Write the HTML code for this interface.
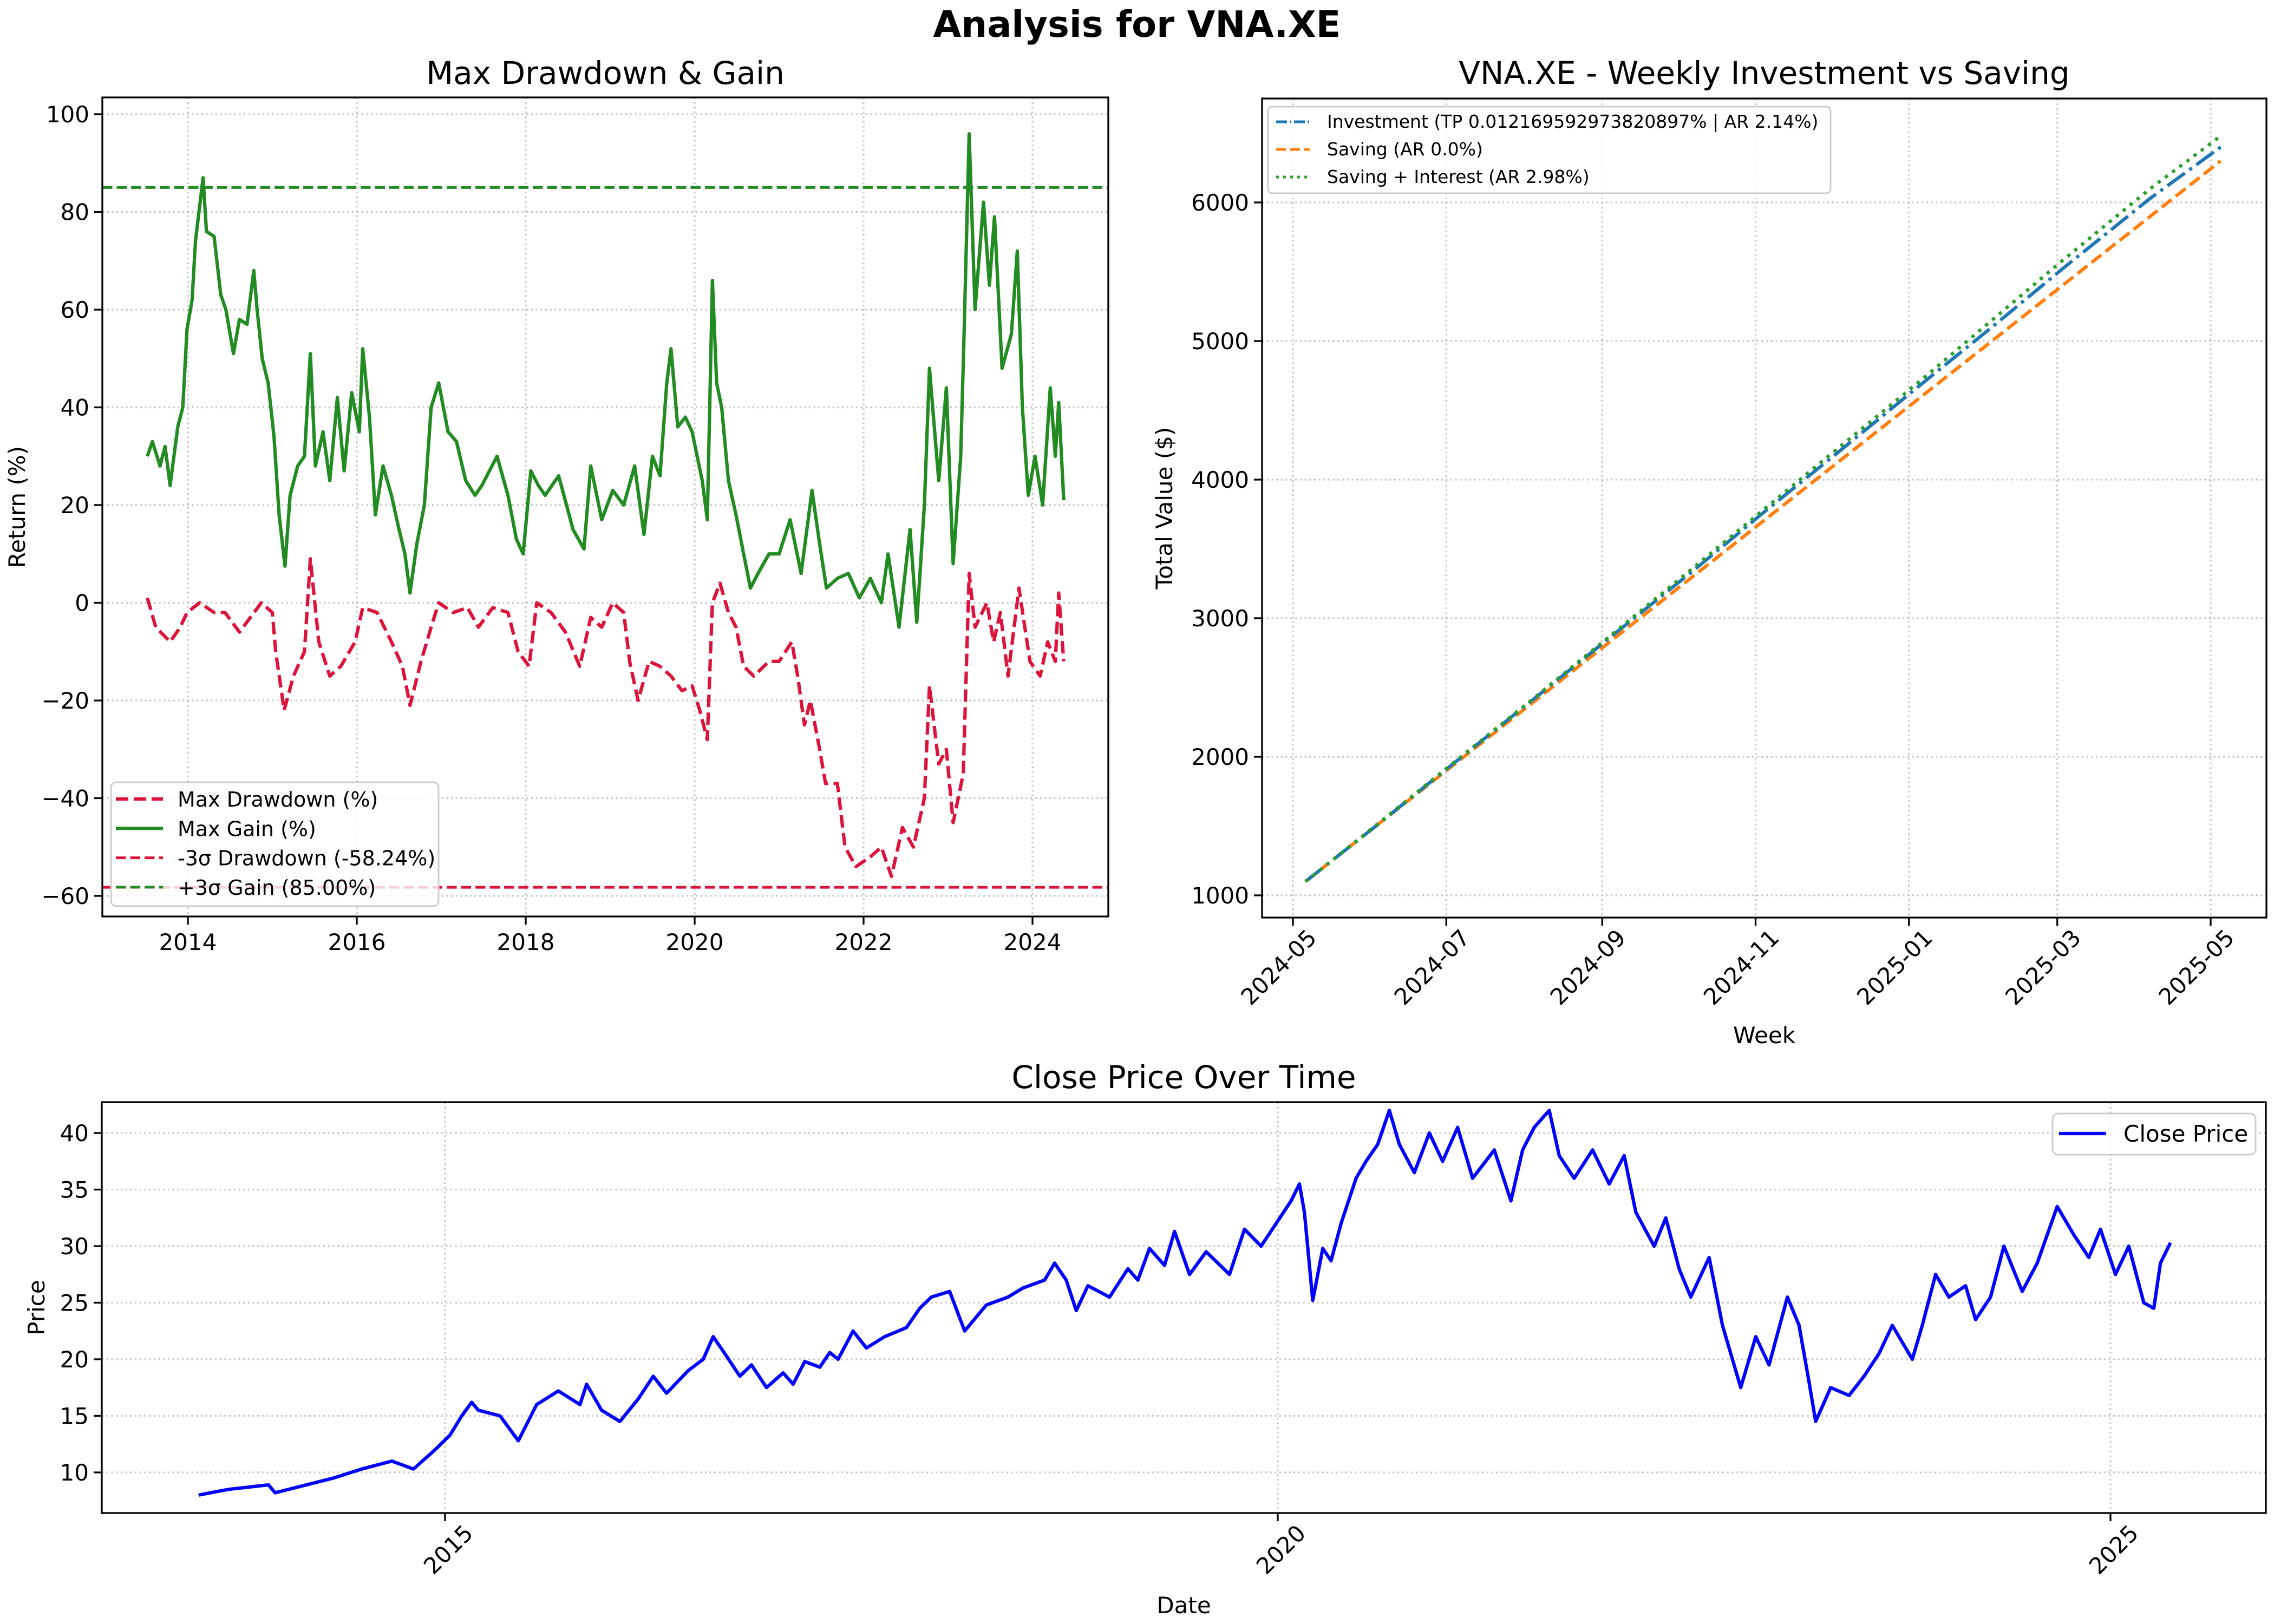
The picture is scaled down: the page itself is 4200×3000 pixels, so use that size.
<!DOCTYPE html>
<html><head><meta charset="utf-8"><style>
html,body{margin:0;padding:0;background:#fff}
svg{display:block;font-family:"DejaVu Sans","Liberation Sans",sans-serif}
</style></head><body>
<svg id="fig" width="4200" height="3000" viewBox="0 0 4200 3000" xmlns="http://www.w3.org/2000/svg">
<rect width="4200" height="3000" fill="#fff"/>
<text x="2100" y="68" text-anchor="middle" font-size="67" font-weight="bold">Analysis for VNA.XE</text>
<g id="p1"></g>
<g id="p2"></g>
<g id="p3"></g>
</svg>
<script>
// ---------- Data: Max drawdown & gain ----------
const gainYears=[2013.52,2013.58,2013.67,2013.73,2013.79,2013.88,2013.94,2013.99,2014.05,2014.09,2014.18,2014.22,2014.31,2014.39,2014.45,2014.54,2014.61,2014.70,2014.78,2014.82,2014.88,2014.95,2015.02,2015.08,2015.15,2015.21,2015.30,2015.38,2015.45,2015.51,2015.60,2015.68,2015.77,2015.85,2015.94,2016.03,2016.07,2016.15,2016.22,2016.31,2016.41,2016.50,2016.57,2016.63,2016.71,2016.80,2016.88,2016.97,2017.08,2017.18,2017.29,2017.40,2017.48,2017.66,2017.79,2017.89,2017.97,2018.06,2018.15,2018.23,2018.39,2018.56,2018.69,2018.77,2018.90,2019.03,2019.16,2019.29,2019.40,2019.50,2019.59,2019.67,2019.72,2019.80,2019.89,2019.97,2020.09,2020.15,2020.21,2020.26,2020.32,2020.40,2020.49,2020.58,2020.66,2020.75,2020.88,2021.00,2021.13,2021.26,2021.39,2021.48,2021.56,2021.69,2021.82,2021.95,2022.08,2022.21,2022.29,2022.42,2022.55,2022.63,2022.72,2022.78,2022.89,2022.98,2023.06,2023.15,2023.19,2023.25,2023.32,2023.42,2023.49,2023.55,2023.64,2023.75,2023.82,2023.88,2023.95,2024.03,2024.12,2024.21,2024.27,2024.31,2024.37];
const gainValues=[30,33,28,32,24,36,40,56,62,74,87,76,75,63,60,51,58,57,68,60,50,45,34,18,7.5,22,28,30,51,28,35,25,42,27,43,35,52,38,18,28,22,15,10,2,12,20,40,45,35,33,25,22,24,30,22,13,10,27,24,22,26,15,11,28,17,23,20,28,14,30,26,45,52,36,38,35,25,17,66,45,40,25,18,10,3,6,10,10,17,6,23,12,3,5,6,1,5,0,10,-5,15,-4,20,48,25,44,8,30,55,96,60,82,65,79,48,55,72,40,22,30,20,44,30,41,21];
const ddYears=[2013.52,2013.62,2013.79,2013.91,2013.99,2014.14,2014.31,2014.44,2014.61,2014.74,2014.87,2015.00,2015.04,2015.14,2015.25,2015.38,2015.45,2015.55,2015.68,2015.81,2015.98,2016.07,2016.24,2016.41,2016.54,2016.63,2016.76,2016.88,2016.97,2017.14,2017.31,2017.44,2017.61,2017.79,2017.91,2018.04,2018.13,2018.30,2018.47,2018.64,2018.77,2018.90,2019.03,2019.16,2019.23,2019.33,2019.46,2019.59,2019.72,2019.85,2019.97,2020.06,2020.15,2020.21,2020.30,2020.40,2020.49,2020.58,2020.70,2020.88,2021.00,2021.15,2021.22,2021.30,2021.37,2021.48,2021.55,2021.69,2021.78,2021.91,2022.08,2022.21,2022.33,2022.46,2022.59,2022.72,2022.78,2022.89,2022.98,2023.06,2023.18,2023.25,2023.32,2023.46,2023.54,2023.62,2023.71,2023.84,2023.97,2024.09,2024.18,2024.27,2024.31,2024.37];
const ddValues=[1,-5,-8,-5,-2,0,-2,-2,-6,-3,0,-2,-10,-22,-15,-10,9,-8,-15,-13,-8,-1,-2,-8,-13,-21,-12,-5,0,-2,-1,-5,-1,-2,-10,-13,0,-2,-6,-13,-3,-5,0,-2,-12,-20,-12,-13,-15,-18,-17,-22,-28,0,4,-2,-5,-13,-15,-12,-12,-8,-15,-25,-20,-30,-37,-37,-50,-54,-52,-50,-56,-46,-50,-40,-17,-33,-30,-45,-35,6,-5,0,-8,-2,-15,3,-12,-15,-8,-12,2,-12];
const ddYTicks=[-60,-40,-20,0,20,40,60,80,100];
const ddXTicks=[2014,2016,2018,2020,2022,2024];
const gainSigma=85.00, ddSigma=-58.24;

// ---------- Data: Weekly investment (days since 2024-05-01) ----------
const invDays=[5,33,61,96,124,159,187,215,250,278,306,341,369];
const savingValues=[1100,1500,1900,2400,2800,3300,3700,4100,4600,5000,5400,5900,6300];
const investValues=[1100,1500,1910,2420,2830,3340,3760,4170,4690,5100,5520,6030,6400];
const interestValues=[1100,1505,1915,2425,2840,3360,3780,4200,4720,5150,5580,6100,6480];
const invXTickDays=[0,61,123,184,245,304,365];
const invXTickLabels=["2024-05","2024-07","2024-09","2024-11","2025-01","2025-03","2025-05"];
const invYTicks=[1000,2000,3000,4000,5000,6000];

// ---------- Data: Close price ----------
const priceYears=[2013.52,2013.7,2013.94,2013.98,2014.33,2014.5,2014.68,2014.81,2014.94,2015.03,2015.10,2015.16,2015.20,2015.33,2015.44,2015.55,2015.68,2015.81,2015.85,2015.94,2016.05,2016.16,2016.25,2016.33,2016.46,2016.55,2016.61,2016.68,2016.77,2016.84,2016.93,2017.03,2017.09,2017.16,2017.25,2017.31,2017.36,2017.45,2017.53,2017.64,2017.77,2017.85,2017.92,2018.03,2018.12,2018.25,2018.38,2018.47,2018.60,2018.66,2018.73,2018.79,2018.86,2018.99,2019.10,2019.16,2019.23,2019.32,2019.38,2019.47,2019.57,2019.71,2019.80,2019.90,2019.99,2020.08,2020.13,2020.16,2020.21,2020.27,2020.32,2020.38,2020.47,2020.53,2020.60,2020.67,2020.73,2020.82,2020.91,2020.99,2021.08,2021.17,2021.30,2021.40,2021.47,2021.54,2021.63,2021.69,2021.78,2021.89,2021.99,2022.08,2022.15,2022.26,2022.33,2022.41,2022.48,2022.59,2022.67,2022.78,2022.87,2022.95,2023.06,2023.13,2023.19,2023.23,2023.32,2023.43,2023.52,2023.61,2023.69,2023.81,2023.87,2023.95,2024.03,2024.13,2024.19,2024.28,2024.36,2024.47,2024.56,2024.68,2024.78,2024.87,2024.94,2025.03,2025.11,2025.20,2025.26,2025.30,2025.36];
const priceValues=[8.0,8.5,8.9,8.2,9.5,10.3,11,10.3,12,13.3,15,16.2,15.5,15,12.8,16,17.2,16,17.8,15.5,14.5,16.5,18.5,17,19,20,22,20.5,18.5,19.5,17.5,18.8,17.8,19.8,19.3,20.6,20,22.5,21,22,22.8,24.5,25.5,26,22.5,24.8,25.5,26.3,27,28.5,27,24.3,26.5,25.5,28,27,29.8,28.3,31.3,27.5,29.5,27.5,31.5,30,32,34,35.5,33,25.2,29.8,28.7,32,36,37.5,39,42,39,36.5,40,37.5,40.5,36,38.5,34,38.5,40.5,42,38,36,38.5,35.5,38,33,30,32.5,28,25.5,29,23,17.5,22,19.5,25.5,23,18,14.5,17.5,16.8,18.5,20.5,23,20,23,27.5,25.5,26.5,23.5,25.5,30,26,28.5,33.5,31,29,31.5,27.5,30,25,24.5,28.5,30.3];
const priceYTicks=[10,15,20,25,30,35,40];
const priceXTicks=[2015,2020,2025];

const NS="http://www.w3.org/2000/svg";
function mk(parent,tag,attrs,text){const e=document.createElementNS(NS,tag);for(const k in attrs)e.setAttribute(k,attrs[k]);if(text!==undefined)e.textContent=text;parent.appendChild(e);return e;}
function lin(d0,d1,r0,r1){return v=>r0+(v-d0)*(r1-r0)/(d1-d0);}
const GRID={stroke:"#b0b0b0","stroke-width":3.3,"stroke-dasharray":"3.3 5.4","stroke-opacity":0.7};

function frame(g,L,T,R,B){const e=mk(g,"rect",{x:L,y:T,width:R-L,height:B-T,fill:"none",stroke:"#000","stroke-width":3.3});}
function pathD(xs,ys,sx,sy){return xs.map((x,i)=>(i?"L":"M")+sx(x).toFixed(1)+" "+sy(ys[i]).toFixed(1)).join("");}

// ===== Panel 1 =====
(function(){
const g=document.getElementById("p1");
const L=189,R=2047,T=180,B=1693;
const sx=lin(2014,2024,347,1907), sy=lin(100,-60,211,1655);
ddYTicks.forEach(v=>{const y=sy(v);
 const gl=mk(g,"line",Object.assign({x1:L,x2:R,y1:y,y2:y},GRID));
 mk(g,"line",{x1:L-15,x2:L,y1:y,y2:y,stroke:"#000","stroke-width":3.3});
 const t=mk(g,"text",{x:L-24,y:y+15,"text-anchor":"end","font-size":42},(v<0?"\u2212"+(-v):v));});
ddXTicks.forEach(v=>{const x=sx(v);
 const gl=mk(g,"line",Object.assign({x1:x,x2:x,y1:T,y2:B},GRID));
 mk(g,"line",{x1:x,x2:x,y1:B,y2:B+15,stroke:"#000","stroke-width":3.3});
 const t=mk(g,"text",{x:x,y:B+62,"text-anchor":"middle","font-size":42},v);});
const dd=mk(g,"path",{d:pathD(ddYears,ddValues,sx,sy),fill:"none",stroke:"#dc143c","stroke-width":6.25,"stroke-dasharray":"23 10","stroke-linejoin":"round"});

const gn=mk(g,"path",{d:pathD(gainYears,gainValues,sx,sy),fill:"none",stroke:"#228b22","stroke-width":6.25,"stroke-linejoin":"round"});

const h1=mk(g,"line",{x1:L,x2:R,y1:sy(gainSigma),y2:sy(gainSigma),stroke:"#228b22","stroke-width":5,"stroke-dasharray":"18.5 8"});

const h2=mk(g,"line",{x1:L,x2:R,y1:sy(ddSigma),y2:sy(ddSigma),stroke:"#dc143c","stroke-width":5,"stroke-dasharray":"18.5 8"});

frame(g,L,T,R,B);
const t=mk(g,"text",{x:(L+R)/2,y:155,"text-anchor":"middle","font-size":58},"Max Drawdown & Gain");
const yl=mk(g,"text",{x:0,y:0,transform:"translate(46 "+((T+B)/2)+") rotate(-90)","text-anchor":"middle","font-size":42},"Return (%)");
const lg=mk(g,"g",{});
mk(lg,"rect",{x:205,y:1445,width:605,height:229,rx:10,fill:"#fff","fill-opacity":0.8,stroke:"#ccc","stroke-width":3});
const items=[["Max Drawdown (%)","#dc143c","23 10",6.25],["Max Gain (%)","#228b22","",6.25],["-3\u03c3 Drawdown (-58.24%)","#dc143c","18.5 8",5],["+3\u03c3 Gain (85.00%)","#228b22","18.5 8",5]];
items.forEach((it,i)=>{const y=1476+i*54.3;const e=mk(lg,"g",{});
 mk(e,"line",{x1:214,x2:301,y1:y,y2:y,stroke:it[1],"stroke-width":it[3],"stroke-dasharray":it[2]});
 mk(e,"text",{x:328,y:y+14,"font-size":38},it[0]);});
})();

// ===== Panel 2 =====
(function(){
const g=document.getElementById("p2");
const L=2331,R=4186,T=182,B=1695;
const sx=lin(0,365,2388,4083), sy=lin(1000,6000,1654,374);
invYTicks.forEach(v=>{const y=sy(v);
 const gl=mk(g,"line",Object.assign({x1:L,x2:R,y1:y,y2:y},GRID));
 mk(g,"line",{x1:L-15,x2:L,y1:y,y2:y,stroke:"#000","stroke-width":3.3});
 const t=mk(g,"text",{x:L-24,y:y+15,"text-anchor":"end","font-size":42},v);});
invXTickDays.forEach((d,i)=>{const x=sx(d);
 const gl=mk(g,"line",Object.assign({x1:x,x2:x,y1:T,y2:B},GRID));
 mk(g,"line",{x1:x,x2:x,y1:B,y2:B+15,stroke:"#000","stroke-width":3.3});
 const t=mk(g,"text",{x:0,y:0,transform:"translate("+(x+46)+" "+(B+40)+") rotate(-45)","text-anchor":"end","font-size":42},invXTickLabels[i]);});
const sv=mk(g,"path",{d:pathD(invDays,savingValues,sx,sy),fill:"none",stroke:"#ff7f0e","stroke-width":6.25,"stroke-dasharray":"23 10"});

const iv=mk(g,"path",{d:pathD(invDays,investValues,sx,sy),fill:"none",stroke:"#1f77b4","stroke-width":6.25,"stroke-dasharray":"40 10 6 10"});

const it=mk(g,"path",{d:pathD(invDays,interestValues,sx,sy),fill:"none",stroke:"#2ca02c","stroke-width":6.25,"stroke-dasharray":"6.25 10.3"});

frame(g,L,T,R,B);
const t=mk(g,"text",{x:(L+R)/2,y:155,"text-anchor":"middle","font-size":58},"VNA.XE - Weekly Investment vs Saving");
const yl=mk(g,"text",{x:0,y:0,transform:"translate(2165 "+((T+B)/2)+") rotate(-90)","text-anchor":"middle","font-size":42},"Total Value ($)");
const xl=mk(g,"text",{x:(L+R)/2,y:1927,"text-anchor":"middle","font-size":42},"Week");
const lg=mk(g,"g",{});
mk(lg,"rect",{x:2342,y:197,width:1039,height:160,rx:8,fill:"#fff","fill-opacity":0.8,stroke:"#ccc","stroke-width":3});
const items=[["Investment (TP 0.012169592973820897% | AR 2.14%)","#1f77b4","20 5 3 5"],["Saving (AR 0.0%)","#ff7f0e","18 8"],["Saving + Interest (AR 2.98%)","#2ca02c","5 8"]];
items.forEach((d,i)=>{const y=225+i*51;const e=mk(lg,"g",{});
 mk(e,"line",{x1:2357,x2:2419,y1:y,y2:y,stroke:d[1],"stroke-width":5,"stroke-dasharray":d[2]});
 mk(e,"text",{x:2451,y:y+11,"font-size":33},d[0]);});
})();

// ===== Panel 3 =====
(function(){
const g=document.getElementById("p3");
const L=188,R=4185,T=2036,B=2795;
const sx=lin(2015,2025,822,3898), sy=lin(10,40,2720,2093);
priceYTicks.forEach(v=>{const y=sy(v);
 const gl=mk(g,"line",Object.assign({x1:L,x2:R,y1:y,y2:y},GRID));
 mk(g,"line",{x1:L-15,x2:L,y1:y,y2:y,stroke:"#000","stroke-width":3.3});
 const t=mk(g,"text",{x:L-24,y:y+15,"text-anchor":"end","font-size":42},v);});
priceXTicks.forEach(v=>{const x=sx(v);
 const gl=mk(g,"line",Object.assign({x1:x,x2:x,y1:T,y2:B},GRID));
 mk(g,"line",{x1:x,x2:x,y1:B,y2:B+15,stroke:"#000","stroke-width":3.3});
 const t=mk(g,"text",{x:0,y:0,transform:"translate("+(x+54)+" "+(B+40)+") rotate(-45)","text-anchor":"end","font-size":42},v);});
const pl=mk(g,"path",{d:pathD(priceYears,priceValues,sx,sy),fill:"none",stroke:"#0000ff","stroke-width":6.25,"stroke-linejoin":"round"});

frame(g,L,T,R,B);
const t=mk(g,"text",{x:(L+R)/2,y:2010,"text-anchor":"middle","font-size":58},"Close Price Over Time");
const yl=mk(g,"text",{x:0,y:0,transform:"translate(82 "+((T+B)/2)+") rotate(-90)","text-anchor":"middle","font-size":42},"Price");
const xl=mk(g,"text",{x:(L+R)/2,y:2980,"text-anchor":"middle","font-size":42},"Date");
const lg=mk(g,"g",{});
mk(lg,"rect",{x:3791,y:2057,width:375,height:76,rx:10,fill:"#fff","fill-opacity":0.8,stroke:"#ccc","stroke-width":3});
const e=mk(lg,"g",{});
mk(e,"line",{x1:3803,x2:3890,y1:2094,y2:2094,stroke:"#0000ff","stroke-width":6.25});
mk(e,"text",{x:3922,y:2109,"font-size":42},"Close Price");
})();
</script>
</body></html>
